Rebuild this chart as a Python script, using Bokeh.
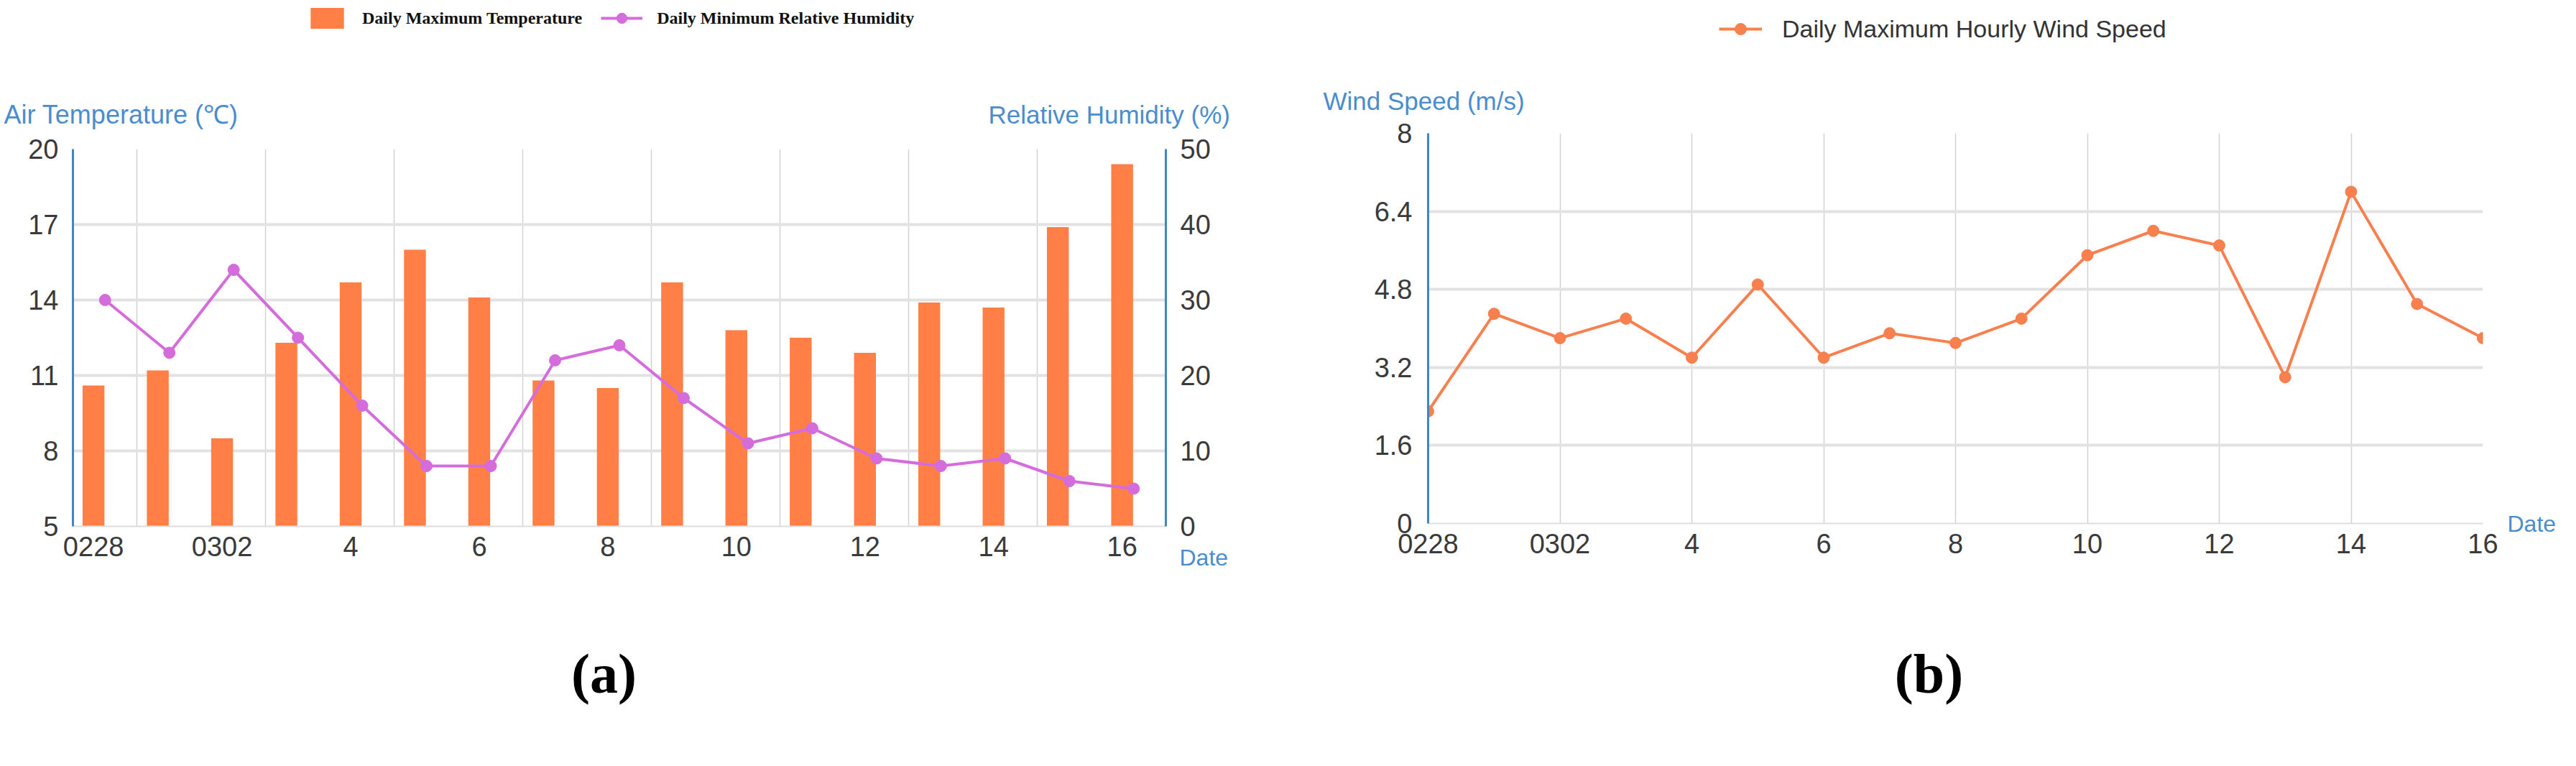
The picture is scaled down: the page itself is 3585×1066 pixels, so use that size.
from bokeh.plotting import figure
from bokeh.models import (ColumnDataSource, Range1d, LinearAxis, FixedTicker,
                          Legend, LegendItem, Label)
from bokeh.core.properties import value
from bokeh.transform import dodge
from bokeh.layouts import row, column
from bokeh.embed import file_html
from bokeh.resources import INLINE

# ---------------- data ----------------
dates = ["0228", "0301", "0302", "3", "4", "5", "6", "7", "8", "9",
         "10", "11", "12", "13", "14", "15", "16"]
max_temp = [10.6, 11.2, 8.5, 12.3, 14.7, 16.0, 14.1, 10.8, 10.5, 14.7,
            12.8, 12.5, 11.9, 13.9, 13.7, 16.9, 19.4]
min_rh = [30, 23, 34, 25, 16, 8, 8, 22, 24, 17, 11, 13, 9, 8, 9, 6, 5]
max_wind = [2.3, 4.3, 3.8, 4.2, 3.4, 4.9, 3.4, 3.9, 3.7, 4.2,
            5.5, 6.0, 5.7, 3.0, 6.8, 4.5, 3.8]
temp_ticks = [5, 8, 11, 14, 17, 20]
rh_ticks = [0, 10, 20, 30, 40, 50]
wind_ticks = [0, 1.6, 3.2, 4.8, 6.4, 8]

idx = list(range(len(dates)))
label_idx = idx[::2]
x_label_map = {i: dates[i] for i in label_idx}

# ---------------- styles ----------------
SANS = "Liberation Sans"
SERIF = "Liberation Serif"
AXIS_BLUE = "#3f86c4"
TITLE_BLUE = "#4b8dcc"
ORANGE = "#ff7f47"
WIND = "#f8804f"
PURPLE = "#d46cdc"
TICK_COLOR = "#3a3a3a"
HGRID = "#e2e2e2"
VGRID = "#d2d2d2"
TICK_SIZE = "38px"
LINE_SHIFT = 0.18   # the humidity points sit right of the bars

W_A, W_B = 1784, 1785


def make_label(font, **kw):
    try:
        return Label(text_font=value(font), x_units="screen", y_units="screen", **kw)
    except Exception:
        return Label(text_font=font, x_units="screen", y_units="screen", **kw)


def style_common(p):
    p.outline_line_color = None
    p.background_fill_color = "white"
    p.border_fill_color = "white"


def blank_fig(w, h):
    # ranges far away from the data: the key renderers only feed the legend
    f = figure(width=w, height=h, x_range=Range1d(-1000, -999),
               y_range=Range1d(-1000, -999),
               x_axis_location=None, y_axis_location=None,
               output_backend="svg", toolbar_location=None, min_border=0)
    style_common(f)
    f.grid.visible = False
    return f


def style_axis(ax, color, width, standoff):
    ax.axis_line_color = color
    ax.axis_line_width = width
    ax.major_tick_line_color = None
    ax.minor_tick_line_color = None
    ax.major_tick_out = 0
    ax.major_tick_in = 0
    ax.minor_tick_out = 0
    ax.major_label_text_font = SANS
    ax.major_label_text_font_size = TICK_SIZE
    ax.major_label_text_color = TICK_COLOR
    ax.major_label_standoff = standoff


def date_axis(p, text, standoff):
    p.extra_y_ranges["date"] = Range1d(0, 1)
    ax = LinearAxis(y_range_name="date", ticker=FixedTicker(ticks=[0]),
                    major_label_overrides={0: text})
    style_axis(ax, None, 1, standoff)
    ax.major_label_text_color = TITLE_BLUE
    ax.major_label_text_font_size = "32px"
    p.add_layout(ax, "right")


# ================= panel (a) =================
src_a = ColumnDataSource(dict(x=idx, temp=max_temp, rh=min_rh))

pa = figure(width=W_A, height=628,
            x_range=Range1d(-0.5 + LINE_SHIFT, len(dates) - 0.5 + LINE_SHIFT),
            y_range=Range1d(temp_ticks[0], temp_ticks[-1]),
            output_backend="svg", toolbar_location=None,
            min_border_left=101, min_border_right=162,
            min_border_top=23, min_border_bottom=80)
style_common(pa)
pa.extra_y_ranges = {"rh": Range1d(rh_ticks[0], rh_ticks[-1])}

pa.yaxis.ticker = FixedTicker(ticks=temp_ticks)
style_axis(pa.yaxis[0], AXIS_BLUE, 3, 20)

pa.xaxis.ticker = FixedTicker(ticks=label_idx)
pa.xaxis.major_label_overrides = x_label_map
style_axis(pa.xaxis[0], "#dddddd", 2, 14)

ra = LinearAxis(y_range_name="rh", ticker=FixedTicker(ticks=rh_ticks))
style_axis(ra, AXIS_BLUE, 3, 20)
pa.add_layout(ra, "right")
date_axis(pa, "\n\nDate", -46)

pa.ygrid.ticker = FixedTicker(ticks=temp_ticks)
pa.ygrid.grid_line_color = HGRID
pa.ygrid.grid_line_width = 4
pa.xgrid.ticker = FixedTicker(ticks=[i + 0.5 + LINE_SHIFT for i in idx[:-1:2]])
pa.xgrid.grid_line_color = VGRID
pa.xgrid.grid_line_width = 1.5

pa.vbar(x="x", top="temp", bottom=temp_ticks[0], width=0.34,
        source=src_a, fill_color=ORANGE, line_color=None)
pa.line(x=dodge("x", LINE_SHIFT), y="rh", source=src_a, y_range_name="rh",
        line_color=PURPLE, line_width=4)
pa.scatter(x=dodge("x", LINE_SHIFT), y="rh", source=src_a, y_range_name="rh",
           size=16, fill_color=PURPLE, line_color=PURPLE)

# header (a): legend + axis titles
ha = blank_fig(W_A, 184)
k_bar = ha.vbar(x="x", top="temp", bottom=temp_ticks[0], width=0.34, source=src_a,
                fill_color=ORANGE, line_color=None)
k_line = ha.line(x="x", y="rh", source=src_a, line_color=PURPLE, line_width=4)
k_pts = ha.scatter(x="x", y="rh", source=src_a, size=16,
                   fill_color=PURPLE, line_color=PURPLE)
leg_a = Legend(items=[LegendItem(label="Daily Maximum Temperature", renderers=[k_bar]),
                      LegendItem(label="Daily Minimum Relative Humidity",
                                 renderers=[k_line, k_pts])],
               location=(426, 141), orientation="horizontal",
               glyph_width=58, glyph_height=36, label_standoff=20, spacing=26,
               padding=0, margin=0, border_line_color=None,
               background_fill_alpha=0,
               label_text_font=SERIF, label_text_font_style="bold",
               label_text_font_size="24px", label_text_color="#111111",
               label_height=36)
ha.add_layout(leg_a)
ha.add_layout(make_label(SANS, x=5, y=25, text="Air Temperature (℃)",
                         text_font_size="36px", text_color=TITLE_BLUE,
                         text_baseline="middle"))
ha.add_layout(make_label(SANS, x=1375, y=25, text="Relative Humidity (%)",
                         text_font_size="35px", text_color=TITLE_BLUE,
                         text_baseline="middle"))

# footer (a): caption
fa = blank_fig(W_A, 238)
fa.add_layout(make_label(SERIF, x=840, y=113, text="(a)", text_font_style="bold",
                         text_font_size="78px", text_color="black",
                         text_baseline="middle", text_align="center"))

# ================= panel (b) =================
src_b = ColumnDataSource(dict(x=idx, wind=max_wind))

pb = figure(width=W_B, height=648, x_range=Range1d(idx[0], idx[-1]),
            y_range=Range1d(wind_ticks[0], wind_ticks[-1]),
            output_backend="svg", toolbar_location=None,
            min_border_left=203, min_border_right=114,
            min_border_top=21, min_border_bottom=84)
style_common(pb)

pb.yaxis.ticker = FixedTicker(ticks=wind_ticks)
pb.yaxis.major_label_overrides = {0: "0", 8: "8"}
style_axis(pb.yaxis[0], AXIS_BLUE, 3, 22)

pb.xaxis.ticker = FixedTicker(ticks=label_idx)
pb.xaxis.major_label_overrides = x_label_map
style_axis(pb.xaxis[0], "#dddddd", 2, 14)
date_axis(pb, "Date", 34)

pb.ygrid.ticker = FixedTicker(ticks=wind_ticks)
pb.ygrid.grid_line_color = HGRID
pb.ygrid.grid_line_width = 4
pb.xgrid.ticker = FixedTicker(ticks=label_idx)
pb.xgrid.grid_line_color = VGRID
pb.xgrid.grid_line_width = 1.5

pb.line(x="x", y="wind", source=src_b, line_color=WIND, line_width=4)
pb.scatter(x="x", y="wind", source=src_b, size=16,
           fill_color=WIND, line_color=WIND)

# header (b)
hb = blank_fig(W_B, 164)
kb_line = hb.line(x="x", y="wind", source=src_b, line_color=WIND, line_width=4)
kb_pts = hb.scatter(x="x", y="wind", source=src_b, size=16,
                    fill_color=WIND, line_color=WIND)
leg_b = Legend(items=[LegendItem(label="Daily Maximum Hourly Wind Speed",
                                 renderers=[kb_line, kb_pts])],
               location=(608, 104), orientation="horizontal",
               glyph_width=60, glyph_height=40, label_standoff=28,
               padding=0, margin=0, border_line_color=None,
               background_fill_alpha=0,
               label_text_font=SANS, label_text_font_size="34px",
               label_text_color="#333333", label_height=40)
hb.add_layout(leg_b)
hb.add_layout(make_label(SANS, x=57, y=24, text="Wind Speed (m/s)",
                         text_font_size="35px", text_color=TITLE_BLUE,
                         text_baseline="middle"))

# footer (b)
fb = blank_fig(W_B, 238)
fb.add_layout(make_label(SERIF, x=900, y=113, text="(b)", text_font_style="bold",
                         text_font_size="78px", text_color="black",
                         text_baseline="middle", text_align="center"))

layout = row(column(ha, row(pa), fa), column(hb, row(pb), fb))
open("out.html", "w").write(file_html(layout, INLINE))
